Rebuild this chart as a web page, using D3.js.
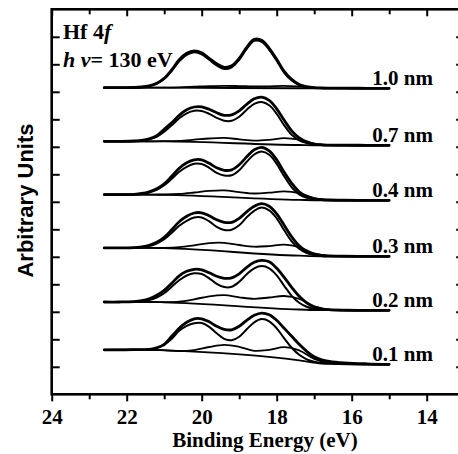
<!DOCTYPE html>
<html>
<head>
<meta charset="utf-8">
<script src="https://cdn.jsdelivr.net/npm/d3@7"></script>
<style>
  body { margin: 0; background: #fff; }
  svg { display: block; }
</style>
</head>
<body>
<div id="chart"></div>
<script>
// Energias (eV) de las curvas medidas y del ajuste principal
const energy = [22.6, 22.2, 21.8, 21.6, 21.4, 21.2, 21.0, 20.8, 20.6, 20.4, 20.2, 20.0, 19.8, 19.6, 19.4, 19.2,
                19.0, 18.8, 18.6, 18.4, 18.2, 18.0, 17.8, 17.6, 17.4, 17.2, 17.0, 16.8, 16.6, 16.2, 15.6, 15.0];
// Energias del fondo (Shirley) y de la componente secundaria
const bgEnergy = [22.6, 21.4, 21.0, 17.4, 16.8, 15.0];
const compEnergy = [22.6, 21.4, 21.0, 20.6, 20.2, 19.8, 19.4, 19.0, 18.6, 18.2, 17.8, 17.4, 17.0, 16.6, 15.0];

const labels = ["0.1 nm", "0.2 nm", "0.3 nm", "0.4 nm", "0.7 nm", "1.0 nm"];
const offsets = [30, 84, 138, 194, 249, 306];

const xMajor = [24, 22, 20, 18, 16, 14];
const xMinor = [23, 21, 19, 17, 15, 13];
const yTicks = [27.5, 55, 82.5, 110, 137.5, 165, 192.5, 220, 247.5, 275, 302.5, 330, 357.5];

// 0.1 nm
const data01 = [14.5, 14.5, 14.6, 14.7, 14.8, 16.5, 20, 28, 36, 42, 45.5, 45.5, 42.5, 38, 35, 34.5,
                38, 44, 49, 51.2, 49.5, 44, 36, 28, 20, 13, 7.5, 4.5, 3, 1.5, 0.5, 0];
const main01 = [14.5, 14.5, 14.5, 14.6, 15, 16.3, 19.5, 25.5, 33.5, 38.5, 41, 41.2, 37.5, 31, 25.5, 24,
                27.5, 35, 42, 45.2, 43, 36, 26, 16.5, 9.5, 5, 2.7, 1.4, 1.0, 0.6, 0.2, 0];
const sec01 = [14.5, 14.5, 14.1, 13.2, 14.2, 17.3, 19.5, 17.5, 13.5, 14.5, 17.2, 14, 5.5, 1.2, 0];
const bg01 = [14.5, 14.5, 14, 4, 0.8, 0];

// 0.2 nm
const data02 = [8.3, 8.3, 8.7, 9.6, 11.5, 15, 20, 27, 34.5, 39, 41, 40.5, 37.5, 34, 32, 32.5,
                36.5, 43, 48, 50, 48.5, 42, 33, 23, 14, 7.5, 3.3, 1.5, 0.7, 0.2, 0, 0];
const main02 = [8.3, 8.3, 8.5, 9, 10.2, 12.8, 17, 23.5, 30, 34.8, 37, 36.3, 32, 26.5, 23.2, 23.5,
                28.5, 36, 42, 44.2, 42, 35, 24.5, 14.5, 7.5, 3.5, 1.4, 0.5, 0.2, 0, 0, 0];
const sec02 = [8.3, 8.3, 8.2, 8.6, 11, 14, 15.2, 13, 11.5, 12.8, 14.3, 11.5, 4, 0.6, 0];
const bg02 = [8.3, 8.3, 8.0, 0.8, 0.1, 0];

// 0.3 nm
const data03 = [8.4, 8.4, 8.7, 9.5, 11, 14, 19, 26.5, 34.5, 40, 43.3, 43.5, 40.5, 36.5, 34, 34,
                38, 44.5, 50, 52.7, 50, 42.5, 31, 19.5, 10.5, 4.8, 2, 0.8, 0.4, 0.1, 0, 0];
const main03 = [8.4, 8.4, 8.6, 9.1, 10.3, 12.8, 17, 23.5, 30.5, 35.5, 38.8, 38.8, 35, 29.5, 26.3, 26.5,
                31, 39, 45.5, 48.7, 46, 38, 26, 15, 7.5, 3.2, 1.2, 0.4, 0.1, 0, 0, 0];
const sec03 = [8.4, 8.4, 8.5, 9.2, 11, 13.2, 13.4, 11.3, 9.6, 10.2, 11.6, 9.2, 3, 0.4, 0];
const bg03 = [8.4, 8.4, 8.1, 0.6, 0.05, 0];

// 0.4 nm
const data04 = [5.7, 5.7, 6, 6.8, 8.5, 11.5, 16.5, 24, 32, 37.5, 40.5, 40.5, 37, 32.5, 30, 30.5,
                35.5, 43.5, 50.5, 53, 49.5, 40.5, 28, 17, 8.5, 3.8, 1.5, 0.6, 0.3, 0.1, 0, 0];
const main04 = [5.7, 5.7, 5.9, 6.5, 8, 10.5, 15, 21.5, 28.5, 33.5, 36.5, 36.3, 32.5, 27.5, 24.8, 25,
                30, 38.5, 45.8, 48.7, 45.5, 36.5, 24, 13, 6, 2.5, 1, 0.4, 0.1, 0, 0, 0];
const sec04 = [5.7, 5.7, 5.8, 6.4, 7.8, 9.4, 9.9, 8.2, 6.8, 7.6, 9, 7.2, 2.2, 0.3, 0];
const bg04 = [5.7, 5.7, 5.5, 0.4, 0.05, 0];

// 0.7 nm
const data07 = [4, 4, 4.3, 5, 6.5, 9.5, 16, 22.5, 30, 35.5, 38.3, 38.5, 36, 32.5, 30, 30.5,
                34.5, 41, 46.5, 48.2, 45, 36.5, 25, 14.5, 7.5, 3.5, 1.3, 0.5, 0.2, 0.1, 0, 0];
const main07 = [4, 4, 4.2, 4.7, 6, 8.5, 13.5, 20, 27, 32, 34.5, 34.3, 31.5, 27.5, 24.5, 24.5,
                28.5, 35.5, 41.5, 43.2, 40, 31.5, 20, 10.5, 5, 2.2, 0.8, 0.3, 0.1, 0, 0, 0];
const sec07 = [4, 4, 4.1, 4.5, 5.6, 6.8, 7.4, 6, 4.6, 5.4, 7.2, 5.6, 1.6, 0.2, 0];
const bg07 = [4, 4, 3.9, 0.3, 0.05, 0];

// 1.0 nm
const data10 = [0.6, 0.6, 0.8, 1.3, 2.5, 5, 10, 18.5, 28.5, 35, 37.5, 35.5, 30, 24.5, 21, 22.5,
                30, 41, 49, 48, 40, 29, 17, 9, 3.8, 1.6, 0.6, 0.3, 0.2, 0.1, 0, 0];
const main10 = [0.6, 0.6, 0.7, 1.1, 2.2, 4.5, 9.2, 17.3, 27, 33.5, 36, 34, 28.5, 22.8, 19.3, 21,
                28.5, 39.5, 47.5, 46.5, 38.5, 27.5, 15.5, 7.8, 3.2, 1.2, 0.4, 0.2, 0.1, 0, 0, 0];
const sec10 = [0.6, 0.6, 0.7, 1.0, 1.6, 2.2, 2.5, 2.2, 1.8, 2.0, 2.4, 1.7, 0.6, 0.1, 0];
const bg10 = [0.6, 0.6, 0.58, 0.03, 0, 0];

const spectra = [
    { label: labels[0], offset: offsets[0], data: data01, main: main01, sec: sec01, bg: bg01 },
    { label: labels[1], offset: offsets[1], data: data02, main: main02, sec: sec02, bg: bg02 },
    { label: labels[2], offset: offsets[2], data: data03, main: main03, sec: sec03, bg: bg03 },
    { label: labels[3], offset: offsets[3], data: data04, main: main04, sec: sec04, bg: bg04 },
    { label: labels[4], offset: offsets[4], data: data07, main: main07, sec: sec07, bg: bg07 },
    { label: labels[5], offset: offsets[5], data: data10, main: main10, sec: sec10, bg: bg10 }
];

const serif = "'Liberation Serif', 'Times New Roman', serif";
const sans = "'Liberation Sans', Arial, sans-serif";

const W = 458, H = 454;
const x = d3.scaleLinear().domain([24, 13]).range([51.7, 464.2]);
const y = d3.scaleLinear().domain([0, 385]).range([394.3, 9.3]);

const svg = d3.select("#chart").append("svg")
    .attr("width", W)
    .attr("height", H);

function path(xs, ys, off, curve) {
    return d3.line()
        .x((d, i) => x(xs[i]))
        .y(d => y(d + off))
        .curve(curve)(ys);
}

// Espectros
const g = svg.append("g").attr("fill", "none").attr("stroke", "#000")
    .attr("stroke-linejoin", "round").attr("stroke-linecap", "round");

spectra.forEach(s => {
    g.append("path").attr("d", path(bgEnergy, s.bg, s.offset, d3.curveMonotoneX)).attr("stroke-width", 1.8);
    g.append("path").attr("d", path(compEnergy, s.sec, s.offset, d3.curveCatmullRom)).attr("stroke-width", 1.8);
    g.append("path").attr("d", path(energy, s.main, s.offset, d3.curveCatmullRom)).attr("stroke-width", 2.0);
    g.append("path").attr("d", path(energy, s.data, s.offset, d3.curveCatmullRom)).attr("stroke-width", 2.8);

    svg.append("text")
        .attr("x", 433)
        .attr("y", y(s.offset) - 3)
        .attr("text-anchor", "end")
        .attr("font-family", serif)
        .attr("font-weight", "bold")
        .attr("font-size", 21)
        .text(s.label);
});

// Ejes
const y0 = y(0), yTop = y(385);

function styleAxis(sel) {
    sel.select(".domain").remove();
    sel.selectAll("line").attr("stroke-width", 2);
}

svg.append("g").attr("transform", `translate(0,${y0})`)
    .call(d3.axisBottom(x).tickValues(xMajor).tickSize(7).tickPadding(8).tickFormat(d3.format("d")))
    .call(styleAxis)
    .selectAll("text")
    .attr("font-family", serif)
    .attr("font-weight", "bold")
    .attr("font-size", 21);

svg.append("g").attr("transform", `translate(0,${y0})`)
    .call(d3.axisBottom(x).tickValues(xMinor).tickSize(5).tickFormat(""))
    .call(styleAxis);

svg.append("g").attr("transform", `translate(0,${yTop})`)
    .call(d3.axisTop(x).tickValues(xMajor).tickSize(-7).tickFormat(""))
    .call(styleAxis);

svg.append("g").attr("transform", `translate(0,${yTop})`)
    .call(d3.axisTop(x).tickValues(xMinor).tickSize(-5).tickFormat(""))
    .call(styleAxis);

svg.append("g").attr("transform", `translate(${x(24)},0)`)
    .call(d3.axisLeft(y).tickValues(yTicks).tickSize(-8).tickFormat(""))
    .call(styleAxis);

svg.append("g").attr("transform", `translate(${x(13)},0)`)
    .call(d3.axisRight(y).tickValues(yTicks).tickSize(-8).tickFormat(""))
    .call(styleAxis);

// Marco
svg.append("rect")
    .attr("x", x(24)).attr("y", yTop)
    .attr("width", x(13) - x(24)).attr("height", y0 - yTop)
    .attr("fill", "none").attr("stroke", "#000").attr("stroke-width", 2.6);

// Titulos de ejes
svg.append("text")
    .attr("x", 265).attr("y", 446.5)
    .attr("text-anchor", "middle")
    .attr("font-family", serif).attr("font-weight", "bold").attr("font-size", 21)
    .text("Binding Energy (eV)");

svg.append("text")
    .attr("transform", "translate(33,200.5) rotate(-90)")
    .attr("text-anchor", "middle")
    .attr("font-family", sans).attr("font-weight", "bold").attr("font-size", 22)
    .text("Arbitrary Units");

// Anotaciones
const t1 = svg.append("text").attr("x", 63).attr("y", 38.5)
    .attr("font-family", serif).attr("font-weight", "bold").attr("font-size", 22);
t1.append("tspan").text("Hf 4");
t1.append("tspan").attr("font-style", "italic").text("f");

const t2 = svg.append("text").attr("x", 63).attr("y", 66.7)
    .attr("font-family", serif).attr("font-weight", "bold").attr("font-size", 22);
t2.append("tspan").attr("font-style", "italic").text("h ν");
t2.append("tspan").text("= 130 eV");
</script>
</body>
</html>
